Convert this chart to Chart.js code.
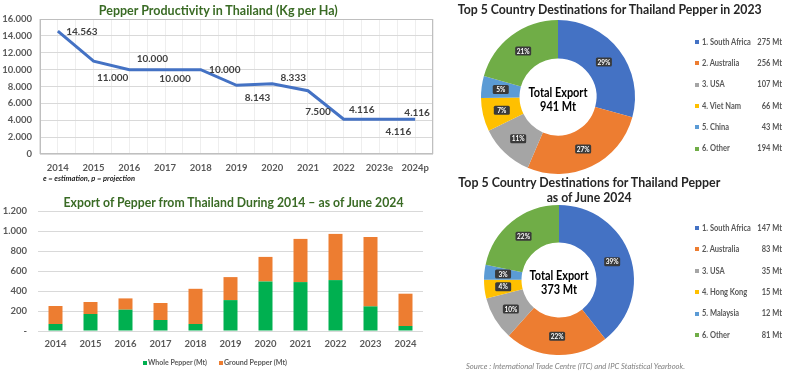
<!DOCTYPE html>
<html><head><meta charset="utf-8">
<script src="https://cdn.jsdelivr.net/npm/chart.js@4.4.1/dist/chart.umd.min.js"></script>
<style>
html,body{margin:0;padding:0;background:#fff;width:800px;height:383px;overflow:hidden;font-family:Lato,'Open Sans',sans-serif;}
canvas{position:absolute;}
</style></head><body>
<canvas id="lineC" style="left:0px;top:0px" width="440" height="180"></canvas>
<canvas id="barC" style="left:0px;top:190px" width="440" height="193"></canvas>
<canvas id="d1" style="left:440px;top:0px" width="360" height="180"></canvas>
<canvas id="d2" style="left:440px;top:183px" width="360" height="200"></canvas>
<script>
// ---------- DATA ----------
const prodYears = ['2014','2015','2016','2017','2018','2019','2020','2021','2022','2023e','2024p'];
const productivity = [14563,11000,10000,10000,10000,8143,8333,7500,4116,4116,4116];

const exportYears = ['2014','2015','2016','2017','2018','2019','2020','2021','2022','2023','2024'];
const wholePepper  = [70,170,213,110,70,309,495,489,509,246,50];
const groundPepper = [180,120,113,170,352,230,246,432,462,695,323];

const dest2023Labels = ['1. South Africa','2. Australia','3. USA','4. Viet Nam','5. China','6. Other'];
const dest2023Values = [275,256,107,66,43,194];
const dest2023Pct    = ['29%','27%','11%','7%','5%','21%'];
const dest2023Total  = 941;

const dest2024Labels = ['1. South Africa','2. Australia','3. USA','4. Hong Kong','5. Malaysia','6. Other'];
const dest2024Values = [147,83,35,15,12,81];
const dest2024Pct    = ['39%','22%','10%','4%','3%','22%'];
const dest2024Total  = 373;

// ---------- STYLE ----------
const FONT = 'Lato, "Open Sans", sans-serif';
const sliceColors = ['#4472C4','#ED7D31','#A5A5A5','#FFC000','#5B9BD5','#70AD47'];
const lineLabelOffsets = [[24,1],[19,17],[23,-11],[10,9],[24,0],[21,12],[21,-6],[10,21],[18,-9],[19,13],[2,-6]];
const fmt = v => String(v).replace(/\B(?=(\d{3})+(?!\d))/g,'.');

Chart.defaults.font.family = FONT;
Chart.defaults.animation = false;

function place(text, o){
  const d=document.createElement('div');
  d.textContent=text;
  d.style.cssText=`position:absolute;white-space:nowrap;font-family:${FONT};font-size:${o.size}px;font-weight:${o.weight||'bold'};font-style:${o.style||'normal'};color:${o.color||'#262626'};line-height:1;`;
  document.body.appendChild(d);
  const r=d.getBoundingClientRect();
  const s=o.scale || (o.w ? o.w/r.width : 1);
  if(o.align==='left'){ d.style.left=o.x+'px'; d.style.transformOrigin='0 50%'; }
  else if(o.align==='right'){ d.style.left=(o.x-r.width)+'px'; d.style.transformOrigin='100% 50%'; }
  else { d.style.left=(o.x-r.width/2)+'px'; d.style.transformOrigin='50% 50%'; }
  d.style.top=(o.y-r.height/2)+'px';
  d.style.transform=`scaleX(${s})`;
  return {el:d,w:r.width,s};
}

// ---------- LINE CHART ----------
const areaBorder={id:'areaBorder',beforeDatasetsDraw(chart){const {ctx,chartArea:a}=chart;ctx.save();ctx.strokeStyle='#bfbfbf';ctx.lineWidth=1;ctx.strokeRect(Math.round(a.left)+0.5,Math.round(a.top)+0.5,Math.round(a.width)-1,Math.round(a.height)-1);ctx.restore();}};
const lineLabels={id:'lineLabels',afterDatasetsDraw(chart){const meta=chart.getDatasetMeta(0);const ctx=chart.ctx;ctx.save();ctx.font='bold 10px '+FONT;ctx.fillStyle='#404040';ctx.textAlign='center';ctx.textBaseline='middle';meta.data.forEach((p,i)=>{const o=lineLabelOffsets[i];ctx.fillText(fmt(productivity[i]),p.x+o[0],p.y+o[1]);});ctx.restore();}};

new Chart(document.getElementById('lineC'),{
  type:'line',
  data:{labels:prodYears,datasets:[{data:productivity,borderColor:'#4472C4',borderWidth:3,pointRadius:0,tension:0,fill:false}]},
  options:{responsive:false,maintainAspectRatio:false,
    layout:{padding:{top:19,right:7,left:0,bottom:0}},
    plugins:{legend:{display:false},tooltip:{enabled:false}},
    scales:{
      x:{type:'category',offset:true,grid:{offset:true,color:'#e3e3e3',drawTicks:false},border:{display:false},
         ticks:{font:{size:9.5,weight:'bold'},color:'#595959',padding:8,maxRotation:0},afterFit:s=>{s.height=26;}},
      x2:{type:'linear',position:'top',min:0,max:22,display:true,ticks:{display:false,stepSize:1},grid:{color:'#eeeeee',drawTicks:false},border:{display:false},afterFit:s=>{s.height=0;}},
      y:{min:0,max:16000,ticks:{stepSize:1000,font:{size:9.5,weight:'bold'},color:'#595959',padding:8,callback:v=>v%2000===0?fmt(v):''},
         grid:{color:c=>c.tick&&c.tick.value%2000===0?'#d9d9d9':'#eeeeee',drawTicks:false},border:{display:false},afterFit:s=>{s.width=40;}}
    }},
  plugins:[areaBorder,lineLabels]
});

// ---------- BAR CHART ----------
new Chart(document.getElementById('barC'),{
  type:'bar',
  data:{labels:exportYears,datasets:[
    {label:'Whole Pepper (Mt)',data:wholePepper,backgroundColor:'#00B050',barPercentage:0.8,categoryPercentage:0.5},
    {label:'Ground Pepper (Mt)',data:groundPepper,backgroundColor:'#ED7D31',barPercentage:0.8,categoryPercentage:0.5}]},
  options:{responsive:false,maintainAspectRatio:false,
    layout:{padding:{top:21,right:17,left:0,bottom:0}},
    plugins:{legend:{display:false},tooltip:{enabled:false}},
    scales:{
      x:{stacked:true,grid:{display:false,drawTicks:false},border:{display:false},ticks:{font:{size:9.5,weight:'bold'},color:'#595959',padding:7,maxRotation:0},afterFit:s=>{s.height=52;}},
      y:{stacked:true,min:0,max:1200,ticks:{stepSize:200,font:{size:9.5,weight:'bold'},color:'#595959',padding:11,callback:v=>v===0?'-':fmt(v)},
         grid:{color:'#d9d9d9',drawTicks:false},border:{display:false},afterFit:s=>{s.width=38;}}
    }}
});

// ---------- DOUGHNUTS ----------
function pctPlugin(pcts,total){
  return {id:'pct',afterDatasetsDraw(chart){
    const ctx=chart.ctx;const meta=chart.getDatasetMeta(0);
    ctx.save();
    meta.data.forEach((arc,i)=>{
      const p=arc.tooltipPosition(true);
      const w=16,h=9;
      ctx.fillStyle='#3a3a3a';
      ctx.beginPath();ctx.roundRect(p.x-w/2,p.y-h/2,w,h,1.5);ctx.fill();
      ctx.fillStyle='#ffffff';ctx.font='bold 6.5px '+FONT;ctx.textAlign='center';ctx.textBaseline='middle';
      ctx.fillText(pcts[i],p.x,p.y+0.5);
    });
    const a=meta.data[0];
    const lines=['Total Export',total+' Mt'];
    ctx.fillStyle='#000';ctx.font='bold 13px '+FONT;ctx.textAlign='center';ctx.textBaseline='middle';
    const tw=ctx.measureText(lines[0]).width;const sx=59/tw;
    [[lines[0],-4],[lines[1],10]].forEach(([t,dy])=>{ctx.save();ctx.translate(a.x,a.y+dy);ctx.scale(sx,1);ctx.fillText(t,0,0);ctx.restore();});
    ctx.restore();
  }};
}
function doughnut(id,values,pcts,total,pad){
  new Chart(document.getElementById(id),{
    type:'doughnut',
    data:{labels:[],datasets:[{data:values,backgroundColor:sliceColors,borderWidth:0}]},
    options:{responsive:false,maintainAspectRatio:false,cutout:'50%',layout:{padding:pad},
      plugins:{legend:{display:false},tooltip:{enabled:false}}},
    plugins:[pctPlugin(pcts,total)]
  });
}
doughnut('d1',dest2023Values,dest2023Pct,dest2023Total,{left:41,right:165,top:20,bottom:6});
doughnut('d2',dest2024Values,dest2024Pct,dest2024Total,{left:44,right:166,top:22,bottom:28});

// ---------- TEXT ----------
const green='#3A6B25';
place('Pepper Productivity in Thailand (Kg per Ha)',{x:218,y:10,w:239,size:13,color:green});
place('e = estimation,  p = projection',{x:43,y:179,w:92,size:7.5,style:'italic',align:'left',color:'#262626'});
place('Export of Pepper from Thailand During 2014 \u2013 as of June 2024',{x:233,y:202,w:340,size:13,color:green});
place('Top 5 Country Destinations for Thailand Pepper in 2023',{x:610,y:9,w:304,size:13,color:'#262626'});
place('Top 5 Country Destinations for Thailand Pepper',{x:589,y:182,w:262,size:13,color:'#262626'});
place('as of June 2024',{x:589,y:197,w:85,size:13,color:'#262626'});
place('Source : International Trade Centre (ITC) and IPC Statistical Yearbook.',{x:466,y:366,w:219,size:8,weight:'normal',style:'italic',align:'left',color:'#7f7f7f'});

function sq(x,y,c,s){const d=document.createElement('div');d.style.cssText=`position:absolute;left:${x}px;top:${y-s/2}px;width:${s}px;height:${s}px;background:${c};`;document.body.appendChild(d);}
// bar legend
sq(143,362.5,'#00B050',4);
place('Whole Pepper (Mt)',{x:148,y:362.5,w:59,size:7.5,align:'left',color:'#595959'});
sq(219,362.5,'#ED7D31',4);
place('Ground Pepper (Mt)',{x:224,y:362.5,w:63,size:7.5,align:'left',color:'#595959'});

// doughnut legends
function legend(labels,values,y0,step){
  labels.forEach((l,i)=>{
    const y=y0+i*step;
    sq(695,y,sliceColors[i],4);
    place(l,{x:702,y:y,size:8.5,align:'left',color:'#595959',scale:0.88});
    place(values[i]+' Mt',{x:782,y:y,size:8.5,align:'right',color:'#595959',scale:0.88});
  });
}
legend(dest2023Labels,dest2023Values,42,21.3);
legend(dest2024Labels,dest2024Values,228,21.4);
</script>
</body></html>
